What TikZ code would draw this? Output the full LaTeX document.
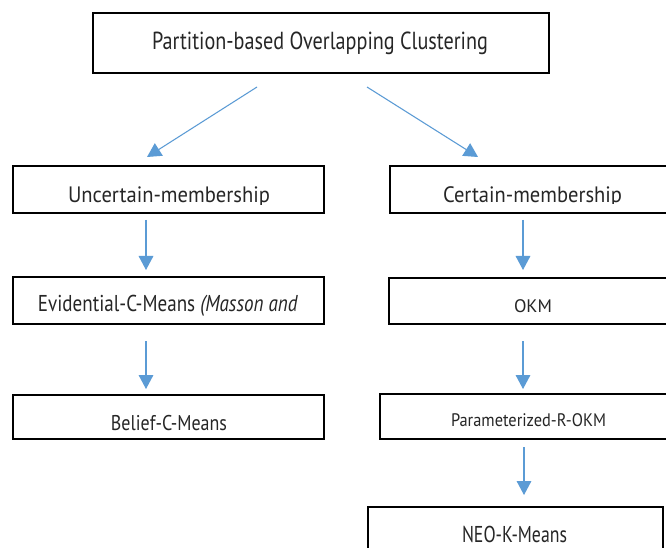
\documentclass[tikz,border=0pt]{standalone}
\usepackage{fontspec}
\setmainfont{PT Sans}
\usetikzlibrary{arrows.meta}
\definecolor{arrowblue}{RGB}{91,155,213}
\tikzset{
  box/.style={draw=black, line width=1.1pt, rectangle, inner sep=0pt},
  lbl/.style={inner sep=0pt, anchor=base, text=black!85},
  flow/.style={draw=arrowblue, line width=0.8pt, -{Triangle[length=10.5pt,width=11pt]}},
}
% font size, target width, text
\newcommand\fitlbl[3]{\fontsize{#1}{#1}\selectfont\resizebox{#2}{\height}{#3}}
\begin{document}
\begin{tikzpicture}[x=0.75pt,y=-0.75pt]
\clip (0,0) rectangle (666,548);
\fill[white] (0,0) rectangle (666,548);
% boxes
\node[box, minimum width={456*0.75pt}, minimum height={60*0.75pt}] (top) at (321,43) {};
\node[box, minimum width={311*0.75pt}, minimum height={47*0.75pt}] (unc) at (168.5,189.5) {};
\node[box, minimum width={280*0.75pt}, minimum height={47*0.75pt}] (cer) at (530,189.5) {};
\node[box, minimum width={311*0.75pt}, minimum height={47*0.75pt}] (evi) at (168.5,300.5) {};
\node[box, minimum width={281*0.75pt}, minimum height={46*0.75pt}] (okm) at (529.5,301) {};
\node[box, minimum width={311*0.75pt}, minimum height={44*0.75pt}] (bel) at (168.5,417) {};
\node[box, minimum width={290*0.75pt}, minimum height={45*0.75pt}] (par) at (525,416.5) {};
\node[box, minimum width={295*0.75pt}, minimum height={53*0.75pt}] (neo) at (515.5,533.5) {};
% labels
\node[lbl] (topT) at (320,50) {\fitlbl{18.5pt}{252pt}{Partition-based Overlapping Clustering}};
\begin{scope}
  \clip (14,168) rectangle (323,204.5);
  \node[lbl] (uncT) at (169,203) {\fitlbl{16.7pt}{151.5pt}{Uncertain-membership}};
\end{scope}
\begin{scope}
  \clip (391,168) rectangle (666,204);
  \node[lbl] (cerT) at (532.5,202.5) {\fitlbl{16.7pt}{134.25pt}{Certain-membership}};
\end{scope}
\node[lbl] (eviT) at (168,312) {\fitlbl{17.2pt}{195pt}{Evidential-C-Means \textit{(Masson and}}};
\node[lbl] (okmT) at (533,312) {\fitlbl{13.6pt}{28.5pt}{OKM}};
\node[lbl] (belT) at (169,430.5) {\fitlbl{16pt}{87pt}{Belief-C-Means}};
\node[lbl] (parT) at (528.5,426) {\fitlbl{13.6pt}{116.25pt}{Parameterized-R-OKM}};
\node[lbl] (neoT) at (514.5,542) {\fitlbl{17.2pt}{78.75pt}{NEO-K-Means}};
% arrow endpoints
\coordinate (a1s) at (257,87);  \coordinate (a1e) at (147,157);
\coordinate (a2s) at (367,87);  \coordinate (a2e) at (478,157);
\coordinate (a3s) at (146,220); \coordinate (a3e) at (146,270);
\coordinate (a4s) at (523,220); \coordinate (a4e) at (523,270);
\coordinate (a5s) at (146,341); \coordinate (a5e) at (146,389);
\coordinate (a6s) at (523,341); \coordinate (a6e) at (523,389);
\coordinate (a7s) at (524,447); \coordinate (a7e) at (524,495);
\draw[flow] (a1s) -- (a1e);
\draw[flow] (a2s) -- (a2e);
\draw[flow] (a3s) -- (a3e);
\draw[flow] (a4s) -- (a4e);
\draw[flow] (a5s) -- (a5e);
\draw[flow] (a6s) -- (a6e);
\draw[flow] (a7s) -- (a7e);
\end{tikzpicture}
\end{document}
